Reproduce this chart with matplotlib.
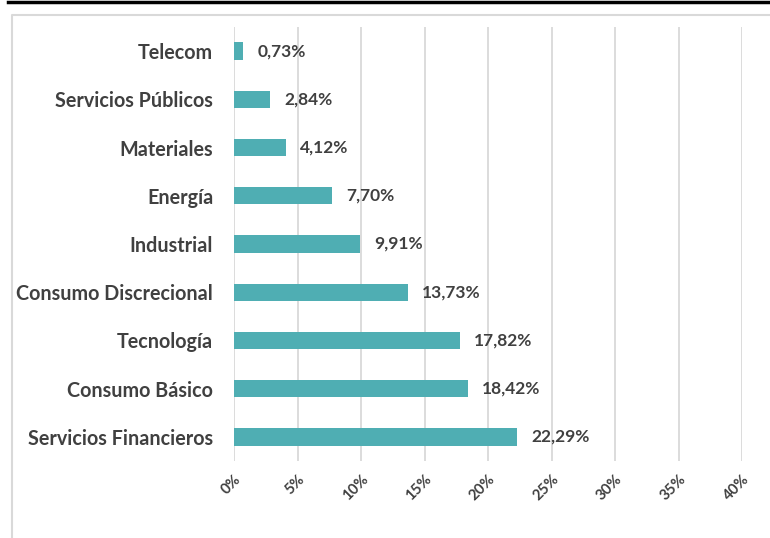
import matplotlib
matplotlib.use("Agg")
import matplotlib.pyplot as plt
from matplotlib.lines import Line2D
from matplotlib.ticker import FuncFormatter

categories = ["Servicios Financieros", "Consumo Básico", "Tecnología", "Consumo Discrecional",
              "Industrial", "Energía", "Materiales", "Servicios Públicos", "Telecom"]
values = [22.29, 18.42, 17.82, 13.73, 9.91, 7.70, 4.12, 2.84, 0.73]
xticks = [0, 5, 10, 15, 20, 25, 30, 35, 40]

plt.rcParams['font.family'] = ['Lato', 'DejaVu Sans']
text_color = "#404040"
bar_color = "#4FAEB3"

fig = plt.figure(figsize=(7.7, 5.38), dpi=100)
ax = fig.add_axes([0.304, 0.143, 0.6597, 0.807])

y = list(range(len(categories)))
ax.barh(y, values, height=0.36, color=bar_color, zorder=3)
for yi, v in zip(y, values):
    ax.annotate(f"{v:.2f}%".replace(".", ","), (v, yi), xytext=(10, 0),
                textcoords="offset points", va="center", ha="left",
                fontsize=12.5, fontweight="bold", color=text_color)

ax.set_xlim(0, 40)
ax.set_ylim(-0.5, len(categories) - 0.5)
ax.set_xticks(xticks)
ax.xaxis.set_major_formatter(FuncFormatter(lambda v, p: f"{v:.0f}%"))
ax.set_yticks(y)
ax.set_yticklabels(categories, fontsize=14.2, fontweight="bold", color=text_color)
ax.tick_params(axis="y", length=0, pad=15)
ax.tick_params(axis="x", length=0, pad=8, labelsize=10.8, labelcolor=text_color)
for lab in ax.get_xticklabels():
    lab.set_rotation(45)
    lab.set_ha("right")
    lab.set_va("top")
    lab.set_rotation_mode("anchor")
    lab.set_fontweight("bold")
ax.grid(axis="x", color="#D9D9D9", linewidth=1.3, zorder=0)
for s in ax.spines.values():
    s.set_visible(False)

# frame decorations
fig.add_artist(Line2D([8/770, 1], [1 - 1.5/538, 1 - 1.5/538], color="black", linewidth=2.5,
                      transform=fig.transFigure))
fig.add_artist(Line2D([11.5/770, 11.5/770, 1], [0, 1 - 15/538, 1 - 15/538], color="#D9D9D9",
                      linewidth=1.5, transform=fig.transFigure))

fig.savefig("out.png", dpi=100)
